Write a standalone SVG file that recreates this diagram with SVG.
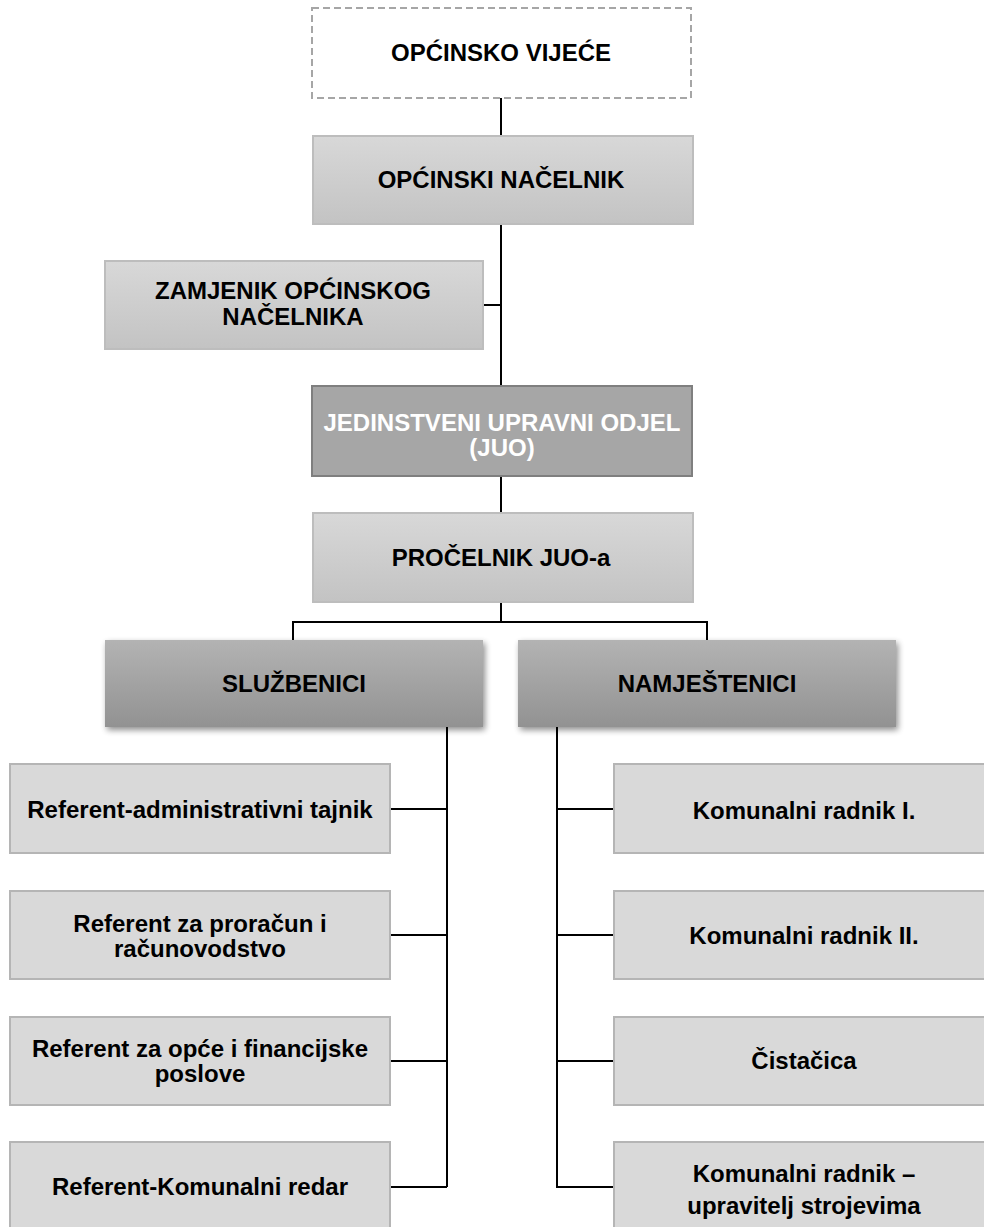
<svg xmlns="http://www.w3.org/2000/svg" width="984" height="1227" viewBox="0 0 984 1227">
<defs>
<linearGradient id="gLight" x1="0" y1="0" x2="0" y2="1"><stop offset="0" stop-color="#d8d8d8"/><stop offset="1" stop-color="#c3c3c3"/></linearGradient>
<linearGradient id="gDark" x1="0" y1="0" x2="0" y2="1"><stop offset="0" stop-color="#b3b3b3"/><stop offset="1" stop-color="#929292"/></linearGradient>
<filter id="sh" x="-5%" y="-10%" width="112%" height="130%"><feGaussianBlur in="SourceAlpha" stdDeviation="3"/><feOffset dx="2" dy="3"/><feComponentTransfer><feFuncA type="linear" slope="0.45"/></feComponentTransfer><feMerge><feMergeNode/><feMergeNode in="SourceGraphic"/></feMerge></filter>
<style>
text{font-family:"Liberation Sans",Arial,sans-serif;font-weight:bold;fill:#000;text-anchor:middle;dominant-baseline:central;font-size:24px}
.wt{fill:#fff}
.ln{stroke:#000;stroke-width:2;fill:none}
.light{fill:url(#gLight);stroke:#bdbdbd;stroke-width:2}
.flat{fill:#d9d9d9;stroke:#b5b5b5;stroke-width:2}
.dark{fill:url(#gDark);stroke:none}
</style>
</defs>
<g id="connectors">
<path class="ln" d="M501 98V136M501 224V386M483 305H501M501 476V513M501 602V622M293 640V622H707V640M447 727V1187M391 809H447M391 935H447M391 1061H447M391 1187H447M557 727V1187H613M557 809H613M557 935H613M557 1061H613"/>
</g>
<g id="vijece">
<rect x="312" y="8" width="379" height="90" fill="#fff" stroke="#a6a6a6" stroke-width="2" stroke-dasharray="7,4"/>
<text x="501" y="52">OPĆINSKO VIJEĆE</text>
</g>
<g id="nacelnik">
<rect class="light" x="313" y="136" width="380" height="88"/>
<text x="501" y="179">OPĆINSKI NAČELNIK</text>
</g>
<g id="zamjenik">
<rect class="light" x="105" y="261" width="378" height="88"/>
<text x="293" y="290">ZAMJENIK OPĆINSKOG</text>
<text x="293" y="316">NAČELNIKA</text>
</g>
<g id="juo">
<rect x="312" y="386" width="380" height="90" fill="#a6a6a6" stroke="#7f7f7f" stroke-width="2"/>
<text class="wt" x="502" y="422">JEDINSTVENI UPRAVNI  ODJEL</text>
<text class="wt" x="502" y="447">(JUO)</text>
</g>
<g id="procelnik">
<rect class="light" x="313" y="513" width="380" height="89"/>
<text x="501" y="557">PROČELNIK JUO-a</text>
</g>
<g id="sluzbenici">
<rect class="dark" filter="url(#sh)" x="105" y="640" width="378" height="87"/>
<text x="294" y="683">SLUŽBENICI</text>
</g>
<g id="namjestenici">
<rect class="dark" filter="url(#sh)" x="518" y="640" width="378" height="87"/>
<text x="707" y="683">NAMJEŠTENICI</text>
</g>
<g id="s1"><rect class="flat" x="10" y="764" width="380" height="89"/><text x="200" y="809">Referent-administrativni tajnik</text></g>
<g id="s2"><rect class="flat" x="10" y="891" width="380" height="88"/><text x="200" y="923">Referent za proračun i</text><text x="200" y="948">računovodstvo</text></g>
<g id="s3"><rect class="flat" x="10" y="1017" width="380" height="88"/><text x="200" y="1048">Referent za opće i financijske</text><text x="200" y="1073">poslove</text></g>
<g id="s4"><rect class="flat" x="10" y="1142" width="380" height="92"/><text x="200" y="1186">Referent-Komunalni redar</text></g>
<g id="n1"><rect class="flat" x="614" y="764" width="380" height="89"/><text x="804" y="810">Komunalni radnik I.</text></g>
<g id="n2"><rect class="flat" x="614" y="891" width="380" height="88"/><text x="804" y="935">Komunalni radnik II.</text></g>
<g id="n3"><rect class="flat" x="614" y="1017" width="380" height="88"/><text x="804" y="1060">Čistačica</text></g>
<g id="n4"><rect class="flat" x="614" y="1142" width="380" height="92"/><text x="804" y="1173">Komunalni radnik –</text><text x="804" y="1205">upravitelj strojevima</text></g>
</svg>
